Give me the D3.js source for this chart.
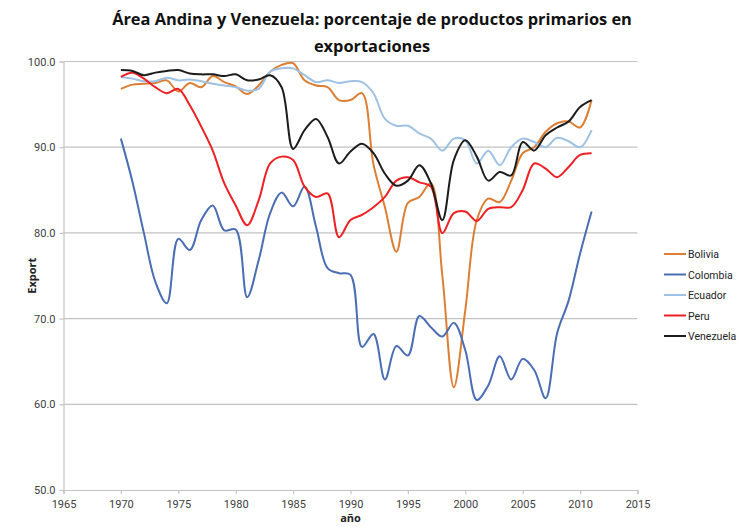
<!DOCTYPE html>
<html>
<head>
<meta charset="utf-8">
<script src="https://cdn.jsdelivr.net/npm/d3@7"></script>
<style>
  html, body { margin: 0; padding: 0; background: #fff; }
  svg { display: block; font-family: "Open Sans", "Noto Sans", sans-serif; }
</style>
</head>
<body>
<svg id="chart" width="740" height="527"></svg>
<script>
const years = d3.range(1970, 2012);
const seriesNames = ["Bolivia", "Colombia", "Ecuador", "Peru", "Venezuela"];
const seriesColors = ["#dc7f35", "#4a6db3", "#9fc2e4", "#ee2024", "#1c1c1c"];

const bolivia = [96.8, 97.3, 97.4, 97.5, 97.8, 96.5, 97.5, 97.0, 98.3, 97.6,
  97.1, 96.2, 97.2, 98.8, 99.6, 99.8, 97.8, 97.2, 97.0, 95.5,
  95.5, 96.3, 88.0, 83.0, 77.8, 83.5, 84.2, 85.8, 75.0, 62.0,
  71.0, 81.5, 84.0, 83.6, 86.1, 89.3, 90.0, 91.8, 92.8, 93.0,
  92.3, 95.5];
const colombia = [91.0, 86.0, 80.0, 74.3, 71.8, 79.3, 78.0, 81.5, 83.2, 80.3,
  80.4, 72.5, 76.8, 82.3, 84.7, 83.1, 85.4, 80.7, 75.9, 75.3,
  75.1, 66.7, 68.2, 62.9, 66.8, 65.7, 70.3, 69.0, 67.9, 69.5,
  66.3, 60.5, 62.2, 65.6, 62.9, 65.3, 64.0, 60.7, 68.3, 72.1,
  77.6, 82.5];
const ecuador = [98.2, 98.0, 97.7, 97.7, 98.1, 97.8, 97.9, 97.7, 97.4, 97.2,
  97.0, 96.6, 96.8, 98.8, 99.2, 99.2, 98.4, 97.6, 97.8, 97.5,
  97.7, 97.6, 96.3, 93.3, 92.5, 92.5, 91.6, 91.0, 89.6, 91.0,
  90.8, 88.1, 89.6, 87.9, 90.0, 91.0, 90.6, 90.0, 91.1, 90.7,
  90.0, 92.0];
const peru = [98.2, 98.7, 98.0, 97.0, 96.3, 96.8, 94.9, 92.4, 89.6, 85.8,
  83.2, 80.9, 83.8, 88.1, 88.9, 88.5, 85.4, 84.2, 84.6, 79.5,
  81.5, 82.1, 83.0, 84.2, 86.1, 86.5, 85.9, 85.4, 80.0, 82.3,
  82.5, 81.4, 82.8, 83.0, 83.0, 85.0, 88.1, 87.5, 86.5, 87.7,
  89.1, 89.3];
const venezuela = [99.0, 98.9, 98.4, 98.7, 98.9, 99.0, 98.6, 98.5, 98.5, 98.3,
  98.5, 97.8, 97.9, 98.4, 97.0, 89.8, 92.0, 93.3, 91.2, 88.1,
  89.5, 90.4, 89.3, 86.9, 85.5, 86.1, 87.9, 85.8, 81.5, 88.5,
  90.8, 88.9, 86.1, 87.1, 86.7, 90.6, 89.6, 91.4, 92.3, 93.0,
  94.7, 95.5];
const seriesValues = [bolivia, colombia, ecuador, peru, venezuela];

const xTicks = d3.range(1965, 2016, 5);
const yTicks = [50, 60, 70, 80, 90, 100];
const titleLines = ["Área Andina y Venezuela: porcentaje de productos primarios en", "exportaciones"];
const xTitle = "año";
const yTitle = "Export";

const svg = d3.select("#chart");
const x = d3.scaleLinear().domain([1965, 2015]).range([63.5, 637.5]);
const y = d3.scaleLinear().domain([50, 100]).range([490, 61.5]);

const gridColor = "#c3c3c3";
const textColor = "#404040";
const smallFont = "Roboto, 'Open Sans', sans-serif";

// gridlines
svg.append("g").selectAll("line").data(yTicks.filter(d => d > 50)).join("line")
  .attr("x1", x(1965)).attr("x2", x(2015))
  .attr("y1", d => y(d)).attr("y2", d => y(d))
  .attr("stroke", gridColor).attr("stroke-width", 1.2);

// y axis
const yAxis = svg.append("g").attr("transform", `translate(${x(1965)},0)`)
  .call(d3.axisLeft(y).tickValues(yTicks).tickFormat(d3.format(".1f")).tickSize(4).tickPadding(4));
yAxis.select(".domain").attr("stroke", gridColor).attr("stroke-width", 1.2);
yAxis.selectAll(".tick line").attr("stroke", gridColor).attr("stroke-width", 1.2);
yAxis.selectAll("text").attr("fill", textColor).attr("font-size", 11).attr("font-family", smallFont);

// x axis
const xAxis = svg.append("g").attr("transform", `translate(0,${y(50)})`)
  .call(d3.axisBottom(x).tickValues(xTicks).tickFormat(d3.format("d")).tickSize(4).tickPadding(6));
xAxis.select(".domain").attr("stroke", gridColor).attr("stroke-width", 1.2);
xAxis.selectAll(".tick line").attr("stroke", gridColor).attr("stroke-width", 1.2);
xAxis.selectAll("text").attr("fill", textColor).attr("font-size", 11).attr("font-family", smallFont);

// lines
const line = d3.line()
  .x((d, i) => x(years[i]))
  .y(d => y(d))
  .curve(d3.curveCatmullRom.alpha(0.5));

svg.append("g").selectAll("path").data(seriesValues).join("path")
  .attr("d", d => line(d))
  .attr("fill", "none")
  .attr("stroke", (d, i) => seriesColors[i])
  .attr("stroke-width", 2)
  .attr("stroke-linejoin", "round");

// title
const title = svg.append("g");
let titleSize = 18;
titleLines.forEach((t, i) => {
  const el = title.append("text")
    .attr("x", 372).attr("y", 25 + i * 27)
    .attr("text-anchor", "middle")
    .attr("font-size", 18).attr("font-weight", "bold")
    .attr("fill", "#111")
    .text(t);
  if (i === 0) {
    const w = el.node().getComputedTextLength();
    titleSize = 18 * 520 / w;
  }
  el.attr("font-size", titleSize);
});

// axis titles
svg.append("text").attr("x", x(1990)).attr("y", 522)
  .attr("text-anchor", "middle").attr("font-size", 11).attr("font-weight", "bold")
  .attr("fill", "#222").text(xTitle);
svg.append("text")
  .attr("transform", `translate(36,${y(75)}) rotate(-90)`)
  .attr("text-anchor", "middle").attr("font-size", 11).attr("font-weight", "bold")
  .attr("fill", "#222").text(yTitle);

// legend
const legend = svg.append("g").attr("transform", "translate(664,254)");
seriesNames.forEach((name, i) => {
  const g = legend.append("g").attr("transform", `translate(0,${i * 20.5})`);
  g.append("line").attr("x1", 0).attr("x2", 22).attr("y1", 0).attr("y2", 0)
    .attr("stroke", seriesColors[i]).attr("stroke-width", 2);
  g.append("text").attr("x", 24).attr("y", 4).attr("font-size", 10.5)
    .attr("font-family", smallFont)
    .attr("fill", "#222").text(name);
});
</script>
</body>
</html>
